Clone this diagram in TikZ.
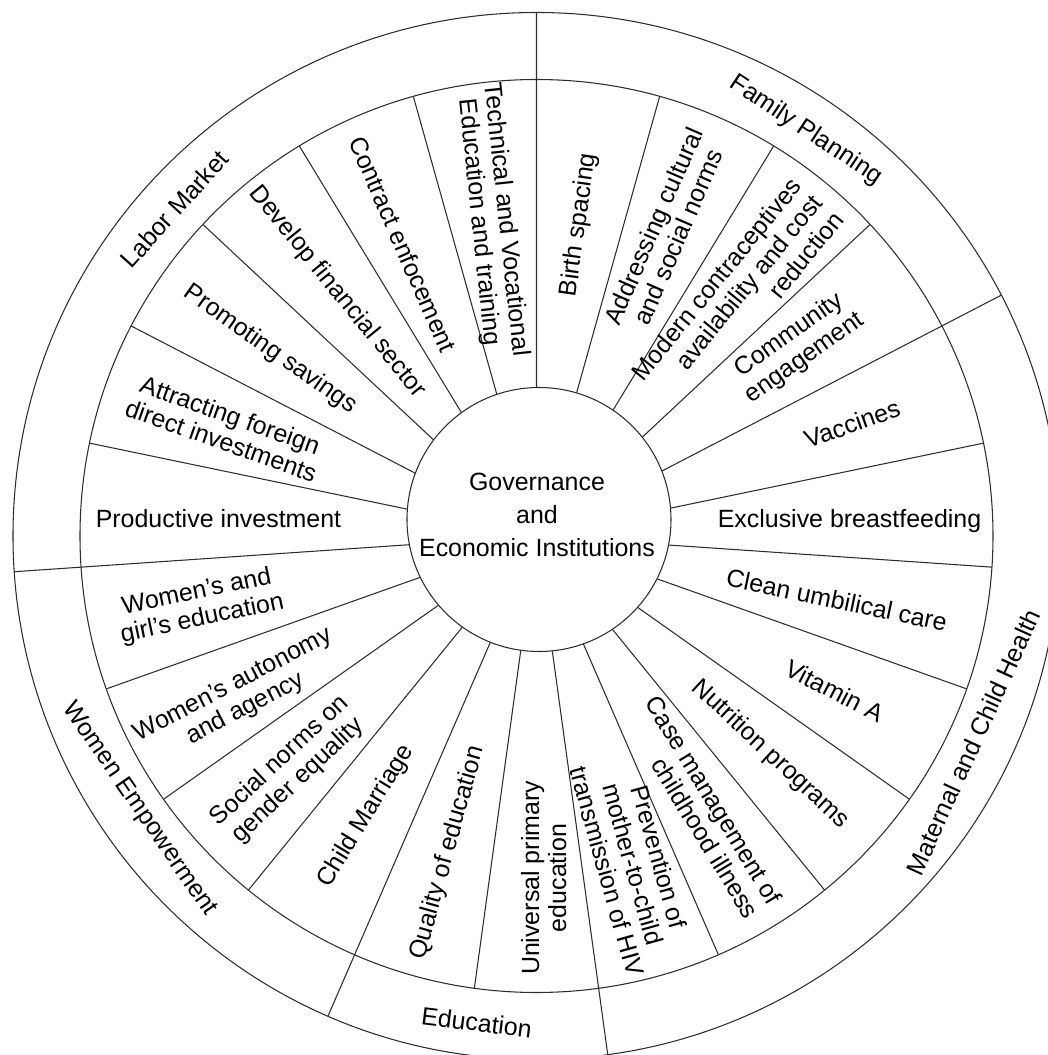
\documentclass[tikz,border=0pt]{standalone}
\usepackage{fontspec}
\setmainfont{Liberation Sans}
\usepackage{tikz}

\begin{document}
\begin{tikzpicture}[x=0.02cm,y=0.02cm,
  line/.style={rim,line width=0.6pt},
  lab/.style={font=\fontsize{14.2}{15.4}\selectfont,align=center,inner sep=0pt},
  cat/.style={font=\fontsize{14.2}{15.4}\selectfont,inner sep=0pt}]
% Define colors
\definecolor{rim}{RGB}{45,45,45}

% Frame of the picture
\useasboundingbox (-536.5,-519) rectangle (511.5,536);
\clip (-536.5,-519) rectangle (511.5,536);

% Draw rings
\draw[line] (0,0) circle (523.5);
\draw[line] (0,0) circle (456.5);

% Draw spokes (long ones split the outer ring)
\draw[line] (0,0) -- (90:523.5) (0,0) -- (74.348:456.5) (0,0) -- (58.696:456.5)
  (0,0) -- (43.043:456.5) (0,0) -- (27.391:523.5) (0,0) -- (11.739:456.5)
  (0,0) -- (-3.913:456.5) (0,0) -- (-19.565:456.5) (0,0) -- (-35.217:456.5)
  (0,0) -- (-50.870:456.5) (0,0) -- (-66.522:456.5) (0,0) -- (-82.174:523.5)
  (0,0) -- (-97.826:456.5) (0,0) -- (-113.478:523.5) (0,0) -- (-129.130:456.5)
  (0,0) -- (-144.783:456.5) (0,0) -- (-160.435:456.5) (0,0) -- (-176.087:523.5)
  (0,0) -- (168.261:456.5) (0,0) -- (152.609:456.5) (0,0) -- (136.957:456.5)
  (0,0) -- (121.304:456.5) (0,0) -- (105.652:456.5);

% Draw hub
\draw[line,fill=white] (2.5,16.5) circle (132);
\node[lab,font=\fontsize{14.2}{18.8}\selectfont] (gov) at (0.5,21) {Governance\\and\\Economic Institutions};

% Family planning sectors
\node[lab,rotate=82.174] (birth) at (82.174:314) {Birth spacing};
\node[lab,rotate=66.522] (norms) at (67:331) {Addressing cultural\\and social norms};
\node[lab,align=right,rotate=50.870] (contra) at (50.1:313) {Modern contraceptives\\availability and cost\\reduction};
\node[lab,rotate=35.217] (commun) at (36:322) {Community\\engagement};

% Maternal and child health sectors
\node[lab,rotate=19.565] (vacc) at (19.6:335) {Vaccines};
\node[lab] (breast) at (313,14.5) {Exclusive breastfeeding};
\node[lab,rotate=-11.739] (cord) at (-12:307) {Clean umbilical care};
\node[lab,rotate=-27.391] (vita) at (-27.391:336) {Vitamin A};
\node[lab,rotate=-43.043] (nutri) at (-43.043:320) {Nutrition programs};
\node[lab,align=right,rotate=-58.696] (illness) at (-58.5:318) {Case management of\\childhood illness};
\node[lab,rotate=-74.348] (hiv) at (-73.6:342) {Prevention of\\mother-to-child\\transmission of HIV};

% Education sectors
\node[lab,rotate=90] (primary) at (-88.8:342) {Universal primary\\education};
\node[lab,rotate=74.348] (quality) at (-105.652:329) {Quality of education};

% Women empowerment sectors
\node[lab,rotate=58.696] (marriage) at (-121.304:328) {Child Marriage};
\node[lab,rotate=43.043] (gender) at (-136.5:341) {Social norms on\\gender equality};
\node[lab,rotate=27.391] (agency) at (-151.5:338) {Women’s autonomy\\and agency};
\node[lab,rotate=11.739] (girls) at (-168.3:344) {Women’s and\\girl’s education};

% Labor market sectors
\node[lab] (invest) at (-318,17.5) {Productive investment};
\node[lab,rotate=-19.565] (fdi) at (160.8:329) {Attracting foreign\\direct investments};
\node[lab,rotate=-35.217] (savings) at (145:325) {Promoting savings};
\node[lab,rotate=-50.870] (finance) at (129.2:315) {Develop financial sector};
\node[lab,rotate=-66.522] (contract) at (114.6:321) {Contract enfocement};
\node[lab,rotate=-84] (tvet) at (98:318) {Technical and Vocational\\Education and training};

% Outer ring labels
\node[cat,rotate=47.9] (labor) at (137.9:488) {Labor Market};
\node[cat,rotate=-33.6] (family) at (56.4:487) {Family Planning};
\node[cat,rotate=65.5] (health) at (-25.3:483) {Maternal and Child Health};
\node[cat,rotate=-7] (educ) at (-97:490) {Education};
\node[cat,rotate=-55.5] (women) at (-145.5:482) {Women Empowerment};
\end{tikzpicture}
\end{document}
